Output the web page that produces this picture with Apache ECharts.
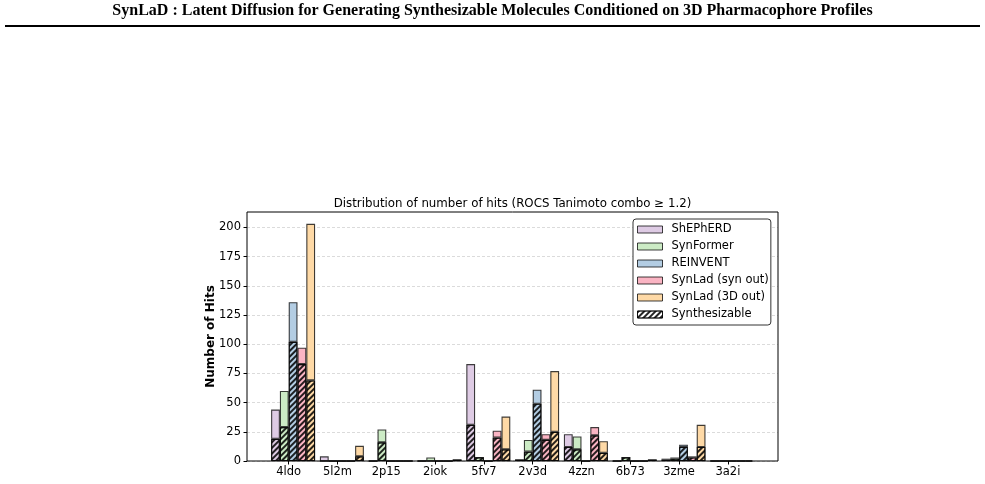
<!DOCTYPE html>
<html>
<head>
<meta charset="utf-8">
<script src="https://cdn.jsdelivr.net/npm/echarts@6/dist/echarts.min.js"></script>
<style>html,body{margin:0;background:#fff}#chart{width:985px;height:484px}</style>
</head>
<body>
<div id="chart"></div>
<script>
const targets = ['4ldo', '5l2m', '2p15', '2iok', '5fv7', '2v3d', '4zzn', '6b73', '3zme', '3a2i'];
const methods = ['ShEPhERD', 'SynFormer', 'REINVENT', 'SynLad (syn out)', 'SynLad (3D out)'];
const colors = ['#decbe4', '#ccebc5', '#b3cde3', '#fab4c3', '#fed9a6'];
const yTicks = [0, 25, 50, 75, 100, 125, 150, 175, 200];

// hits per target, and the synthesizable part of them
const shepherdHits = [44, 4, 0, 0, 83, 1, 23, 0, 2, 0];
const shepherdSyn = [19, 0, 0, 0, 31, 1, 12, 0, 1, 0];
const synformerHits = [60, 0, 27, 3, 3, 18, 21, 3, 3, 0];
const synformerSyn = [29, 0, 16, 0, 3, 8, 10, 3, 2, 0];
const reinventHits = [136, 0, 0, 0, 0, 61, 0, 0, 14, 0];
const reinventSyn = [102, 0, 0, 0, 0, 49, 0, 0, 12, 0];
const synladSynHits = [97, 0, 0, 0, 26, 23, 29, 0, 4, 0];
const synladSynSyn = [83, 0, 0, 0, 20, 18, 22, 0, 3, 0];
const synlad3dHits = [203, 13, 0, 1, 38, 77, 17, 1, 31, 0];
const synlad3dSyn = [69, 4, 0, 1, 10, 25, 7, 1, 12, 0];

const hits = [shepherdHits, synformerHits, reinventHits, synladSynHits, synlad3dHits];
const syn = [shepherdSyn, synformerSyn, reinventSyn, synladSynSyn, synlad3dSyn];

const yMax = 203 * 1.05;
const font = '"DejaVu Sans", sans-serif';
const edge = 'rgba(0,0,0,0.75)';
const hatch = {
  symbol: 'rect', symbolSize: 1,
  dashArrayX: [1, 0], dashArrayY: [1.1, 1.9],
  rotation: -Math.PI / 4,
  color: 'rgba(0,0,0,0.85)'
};
const barW = 8.8;

let series = [{
  // empty slot on the left of each group, also used as legend entry
  name: 'Synthesizable', type: 'bar', xAxisIndex: 1, yAxisIndex: 1,
  data: [], barWidth: barW, barGap: '0%',
  itemStyle: { color: '#fff', borderColor: edge, borderWidth: 1, decal: hatch }
}];
methods.forEach(function (m, k) {
  series.push({
    name: m + ' synthesizable', type: 'bar', stack: m, xAxisIndex: 1, yAxisIndex: 1,
    data: syn[k], barWidth: barW, barGap: '0%',
    itemStyle: { color: colors[k], borderColor: edge, borderWidth: 1.1, decal: hatch }
  });
  series.push({
    name: m, type: 'bar', stack: m, xAxisIndex: 1, yAxisIndex: 1,
    data: hits[k].map(function (v, i) { return v - syn[k][i]; }),
    barWidth: barW, barGap: '0%',
    itemStyle: { color: colors[k], borderColor: edge, borderWidth: 1.1 }
  });
});

const chart = echarts.init(document.getElementById('chart'));
chart.setOption({
  animation: false,
  textStyle: { fontFamily: font },
  graphic: [
    { type: 'text', left: 'center', top: 3,
      style: { text: 'SynLaD : Latent Diffusion for Generating Synthesizable Molecules Conditioned on 3D Pharmacophore Profiles',
        font: 'bold 16px "Liberation Serif", serif', fill: '#000' } },
    { type: 'line', shape: { x1: 5, y1: 26, x2: 980, y2: 26 }, style: { stroke: '#000', lineWidth: 2 } },
    { type: 'text', x: 512.5, y: 198,
      style: { text: 'Distribution of number of hits (ROCS Tanimoto combo \u2265 1.2)',
        font: '11.8px "DejaVu Sans"', fill: '#000', textAlign: 'center' } }
  ],
  grid: [
    { left: 247, top: 212, width: 531, height: 249, show: true, borderColor: '#000', borderWidth: 1 },
    { left: 264.3, top: 212, width: 488, height: 249 }
  ],
  legend: {
    data: methods.concat(['Synthesizable']),
    icon: 'rect',
    orient: 'vertical', left: 633, top: 219,
    itemWidth: 25, itemHeight: 7, itemGap: 4,
    backgroundColor: '#fff', borderColor: '#333', borderWidth: 1, borderRadius: 3,
    padding: [4, 2, 4, 4],
    textStyle: { fontSize: 11.5, lineHeight: 13, color: '#000', fontFamily: font, padding: [0, 0, 0, 4] },
    itemStyle: { borderColor: edge, borderWidth: 1 }
  },
  xAxis: [
    { type: 'value', gridIndex: 0, min: 0, max: 1, show: false },
    { type: 'category', gridIndex: 1, data: targets,
      axisLine: { show: false },
      axisTick: { show: true, alignWithLabel: true, length: 3.5, lineStyle: { color: '#000' } },
      axisLabel: { fontSize: 11.5, color: '#000', margin: 5, fontFamily: font } }
  ],
  yAxis: [
    { type: 'value', gridIndex: 0, min: 0, max: yMax, interval: 25,
      name: 'Number of Hits', nameLocation: 'middle', nameGap: 30, nameMoveOverlap: false,
      nameTextStyle: { fontSize: 12, fontWeight: 'bold', color: '#000', fontFamily: font },
      axisLine: { show: false },
      axisTick: { show: true, length: 3.5, lineStyle: { color: '#000' }, customValues: yTicks },
      axisLabel: { fontSize: 11.5, color: '#000', margin: 6, customValues: yTicks, fontFamily: font },
      splitLine: { show: true, lineStyle: { color: 'rgba(0,0,0,0.18)', type: [3, 2], width: 0.8 } } },
    { type: 'value', gridIndex: 1, min: 0, max: yMax, show: false }
  ],
  series: series
});
</script>
</body>
</html>
